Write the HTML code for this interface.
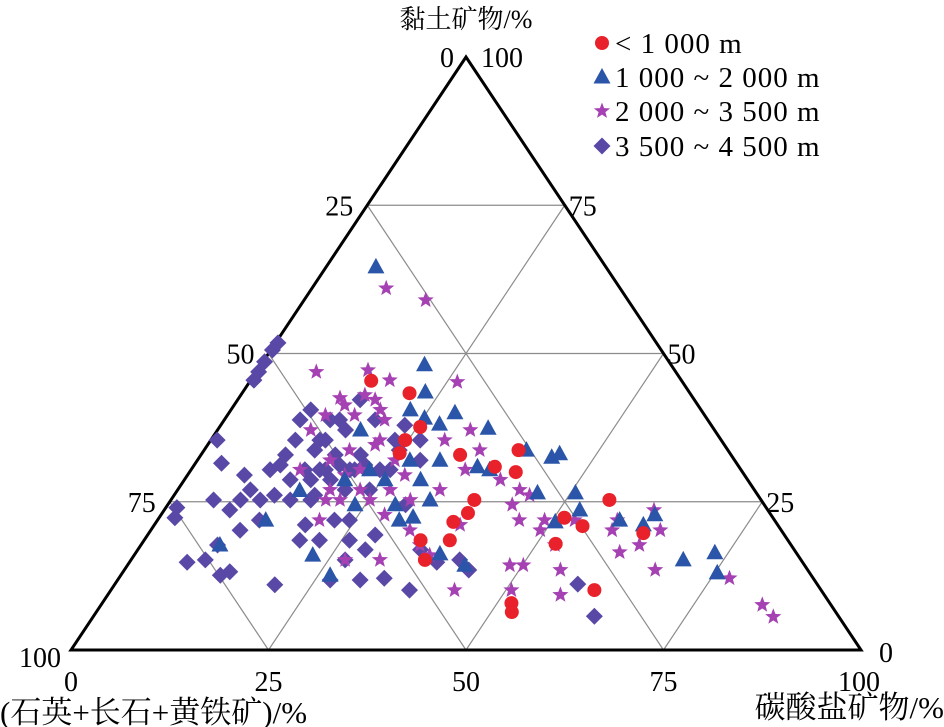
<!DOCTYPE html>
<html><head><meta charset="utf-8"><style>
html,body{margin:0;padding:0;background:#fff}
svg{display:block}
text{font-family:"Liberation Serif","Noto Serif CJK SC",serif;fill:#000}
</style></head><body>
<svg id="chart" width="944" height="727" viewBox="0 0 944 727">
<g id="grid"></g>
<g id="frame"></g>
<g id="marks"></g>
<g id="labels"></g>
<g id="legend"></g>
</svg>
<script>
// data as [clay %, carbonate %]; quartz+feldspar+pyrite = 100 - clay - carbonate
const tickValues=[25,50,75];
const seriesNames=["< 1 000 m","1 000 ~ 2 000 m","2 000 ~ 3 500 m","3 500 ~ 4 500 m"];
const redClay=[45.4,43.3,32.9,30.9,33.7,30.0,25.3,23.1,21.6,18.5,22.3,20.9,25.3,17.9,19.7,10.1,7.9,6.4,15.2,18.5,35.4,37.6,33.2];
const redCarb=[15.3,21.2,32.8,38.2,39.8,41.3,38.4,38.7,37.6,35,51.3,54.3,55.5,52.4,62.6,61.2,51.8,52.6,37.2,38.7,24.6,25.4,25];
const blueClay=[64.6,48.1,39.1,40.5,38.1,40.0,37.4,30.4,33.7,32.5,33.1,26.5,21.9,21.1,22.8,23.6,15.2,16.4,13.0,21.6,30.9,26.5,26.9,21.9,17.7,16,12.6,24.5,21.9,28.7,28.7,32,32,25.3,37.1,30.4,28.7,24.5,14.3,16.2,22.4,43.5];
const blueCarb=[6.3,20.7,25.2,22.7,27.6,28.6,34.1,37.8,40.8,44.6,45.3,50.6,58.5,61.9,62.5,52.6,69.9,73.3,75.3,50.5,36,45.8,15.5,13.7,10,22.6,26.5,23.7,30.6,25.4,29.9,26.9,30.7,32.8,18.1,22.6,20.3,28.8,42.7,38.6,32.1,23.1];
const starClay=[61,59,46.9,42.5,47.2,42.2,45.5,45.2,35.4,37.1,33.7,30.4,28.7,27,26.1,21.9,20.2,21.9,20.2,21.9,17.7,23.6,13.5,20.2,12.1,7.6,5.6,16.5,9.3,10.1,10.1,14.3,17.7,16,15.2,15.2,21.9,30.4,32,33.7,35.4,32,27,25.3,20.2,13.5,14.3,21.1,17.7,24.5,21.9,37.1,39.6,39.6,38.8,29.5,25.3,27,27,41.3,43,40.5,34.6,30.4,29.5,27,25.3,25.3,22.8];
const starCarb=[9.4,15.4,7.6,12.8,14,17.4,17.6,26.3,29.6,32,34.9,34.7,40,43.3,45,45.8,49.3,52.8,58.4,58.2,63.1,62,67.2,64.5,77.3,83.7,86.1,61.2,57.3,50.7,43.5,48.4,35.3,37.4,31.5,27.1,20.5,13.8,16.8,18.4,21.4,25,23.1,21.4,32.8,55.2,50.1,38.7,52.4,43.6,49,11.8,12.4,16.1,20.3,27.5,25.2,19.3,33.2,14,15.7,18.9,21.2,21.4,19.9,26.9,30.3,19.6,28.3];
const diaClay=[51.8,50.6,48.6,46.9,45.5,35.4,24,22.3,14.8,15.2,13.2,17.7,20.2,30.4,35.4,26.1,27,23.6,21.9,25.3,21.1,18.5,18.5,15.2,11.8,12.1,11.8,11,12.6,25.3,35.4,28.7,30.4,30.4,31.2,30.4,27,21.9,19.4,33.7,35.4,24.5,16.9,14.8,15.2,13.5,18.5,21.9,16.9,11.1,5.7,10.1,28.7,28.7,25.3,37.1,38.8,32.9,30.4,25.3,29.5,31.5,25.3,38.8,33.7,31.2,40.5,35.4,32.9,30.4,31.2,38.8,42.2,38.8,30.4,30.4,27,26.1,32.9,32,37.9,35.4];
const diaCarb=[0.3,0.2,0.2,0.3,0.4,0.8,1.4,2,7.3,9.4,13.5,9.7,11.3,10,10.7,12.7,9.2,8.3,12.9,15.1,19.1,19.7,22.2,27.1,30.7,33.6,26.9,20.3,12.6,8.8,13.8,18.5,14.4,16.3,18.4,20.7,24.3,24.3,28.8,24.7,26.5,30.1,35.8,38.9,41.6,43.6,26,22.4,28.8,58.6,63.4,37.8,13.4,16,17.7,16.2,13.4,20.2,23.9,11.3,7.2,3.3,5.4,9.6,14,10.9,10.1,14.5,17,20.1,21.6,14.6,15.5,19.1,25.2,17,21.2,17.8,10.7,28.2,23.3,23.3];

const NS="http://www.w3.org/2000/svg";
const L={x:71,y:650},R={x:861,y:650},T={x:466,y:57};
function px(clay,carb){return L.x+(R.x-L.x)*(carb+clay/2)/100;}
function py(clay){return L.y-(L.y-T.y)*clay/100;}
function mk(tag,attrs,parent){const e=document.createElementNS(NS,tag);for(const k in attrs)e.setAttribute(k,attrs[k]);parent.appendChild(e);return e;}
const grid=document.getElementById('grid'),frame=document.getElementById('frame'),marks=document.getElementById('marks'),labels=document.getElementById('labels'),legend=document.getElementById('legend');
tickValues.forEach(v=>{
  let e=mk('line',{x1:px(v,0),y1:py(v),x2:px(v,100-v),y2:py(v),stroke:'#8c8c8c','stroke-width':1.2},grid);
  
  e=mk('line',{x1:px(0,v),y1:py(0),x2:px(100-v,v),y2:py(100-v),stroke:'#8c8c8c','stroke-width':1.2},grid);
  
  const q=v;e=mk('line',{x1:px(0,100-q),y1:py(0),x2:px(100-q,0),y2:py(100-q),stroke:'#8c8c8c','stroke-width':1.2},grid);
  
});
let fr=mk('polygon',{points:`${L.x},${L.y} ${R.x},${R.y} ${T.x},${T.y}`,fill:'none',stroke:'#000','stroke-width':3,'stroke-linejoin':'miter'},frame);


const C={red:'#e8212a',blue:'#2a55a8',star:'#a541b3',dia:'#5a48a6'};
function circle(x,y,p,n){const e=mk('circle',{cx:x,cy:y,r:7,fill:C.red},p);}
function tri(x,y,p,n){const e=mk('polygon',{points:`${x},${y-9} ${x+8.5},${y+6.5} ${x-8.5},${y+6.5}`,fill:C.blue},p);}
function star(x,y,p,n){let pts=[];for(let i=0;i<10;i++){const r=i%2?3.6:8.5;const a=-Math.PI/2+i*Math.PI/5;pts.push((x+r*Math.cos(a)).toFixed(1)+','+(y+r*Math.sin(a)).toFixed(1));}const e=mk('polygon',{points:pts.join(' '),fill:C.star},p);}
function dia(x,y,p,n){const e=mk('polygon',{points:`${x},${y-8.5} ${x+8.5},${y} ${x},${y+8.5} ${x-8.5},${y}`,fill:C.dia},p);}
diaClay.forEach((c,i)=>dia(px(c,diaCarb[i]),py(c),marks,'point-3500-4500'));
starClay.forEach((c,i)=>star(px(c,starCarb[i]),py(c),marks,'point-2000-3500'));
blueClay.forEach((c,i)=>tri(px(c,blueCarb[i]),py(c),marks,'point-1000-2000'));
redClay.forEach((c,i)=>circle(px(c,redCarb[i]),py(c),marks,'point-under-1000'));

function txt(s,x,y,anchor,size,name){const e=mk('text',{x:x,y:y,'text-anchor':anchor,'font-size':size},labels);e.textContent=s;return e;}
txt('黏土矿物/%',466,28,'middle',26,'top-axis-title');
txt('0',447,67,'middle',28,'top-tick-0');txt('100',502,67,'middle',28,'top-tick-100');
tickValues.forEach(v=>{
  txt(String(v),px(100-v,0)-14,py(100-v)+10,'end',28,'left-tick-'+v);
  txt(String(100-v),px(100-v,v)+4,py(100-v)+10,'start',28,'right-tick-'+(100-v));
  txt(String(v),px(0,v),691,'middle',28,'bottom-tick-'+v);
});
txt('100',40,667,'middle',28,'left-tick-100');txt('0',886,662,'middle',28,'right-tick-0');
txt('0',71,691,'middle',28,'bottom-tick-0');txt('100',859,691,'middle',28,'bottom-tick-100');
txt('(石英+长石+黄铁矿)/%',0,723,'start',31,'left-axis-title');
txt('碳酸盐矿物/%',944,718,'end',31,'right-axis-title');

const ly=[43,77,111,146];
const fns=[circle,tri,star,dia];
seriesNames.forEach((s,i)=>{
  const g=mk('g',{},legend);
  fns[i](602,ly[i],g,'legend-marker');
  const t=mk('text',{x:615,y:ly[i]+10,'font-size':29,'letter-spacing':1},g);t.textContent=s;
  
});
</script>
</body></html>
